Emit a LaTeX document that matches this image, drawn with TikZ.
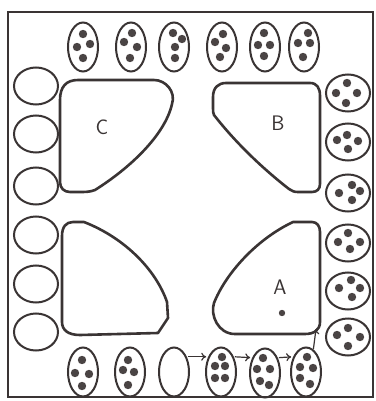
\documentclass[tikz,border=0pt]{standalone}
\usetikzlibrary{shapes.geometric,arrows.meta}
\definecolor{ink}{HTML}{3A3434}
\definecolor{pipc}{HTML}{4A4444}
\tikzset{
  frame/.style={draw=ink,line width=2.4pt},
  lobe/.style={draw=ink,line width=2.6pt,line join=round},
  vcell/.style={ellipse,draw=ink,line width=2pt,minimum width=30pt,minimum height=49pt,inner sep=0pt},
  hcell/.style={ellipse,draw=ink,line width=2pt,minimum width=44pt,minimum height=37pt,inner sep=0pt},
  pip/.style={fill=pipc},
  lbl/.style={font=\sffamily\fontsize{21}{21}\selectfont,text=ink,inner sep=0pt},
  arr/.style={draw=ink,line width=1.2pt,-{To[length=5pt,width=8pt]},shorten <=1pt,shorten >=2pt}
}
\newcommand\pips[2]{\foreach \p in {#2}{\fill[pip] (#1.center) ++(\p) circle[radius=4.2];}}
\begin{document}
\begin{tikzpicture}[x=1pt,y=-1pt]
\useasboundingbox (0,0) rectangle (375,401);
\fill[white] (0,0) rectangle (375,401);
\draw[frame] (8,12) rectangle (373,397);
% lobes
\draw[lobe] (60,100) .. controls (60,87) and (66,80) .. (78,80)
  -- (154,80) .. controls (166,80) and (176,92) .. (172,104)
  .. controls (165,135) and (130,168) .. (95,190)
  .. controls (90,192) and (85,192) .. (80,192)
  -- (70,192) .. controls (64,192) and (60,188) .. (60,182) -- cycle;
\draw[lobe] (213,97) .. controls (213,88) and (218,83) .. (226,83)
  -- (310,83) .. controls (317,83) and (320,88) .. (320,96)
  -- (320,184) .. controls (320,189) and (317,192) .. (312,192)
  -- (298,192) .. controls (294,192) and (292,191) .. (289,189)
  .. controls (262,168) and (235,142) .. (214,115)
  .. controls (213,113) and (213,111) .. (213,108) -- cycle;
\draw[lobe] (62,236) .. controls (62,227) and (66,222) .. (73,222)
  -- (84,222) .. controls (125,238) and (156,270) .. (167,302)
  -- (168,318) -- (158,333) -- (80,335)
  .. controls (68,335) and (62,330) .. (62,322) -- cycle;
\draw[lobe] (320,232) .. controls (320,226) and (317,222) .. (312,222)
  -- (293,222) .. controls (255,240) and (225,275) .. (214,303)
  .. controls (210,315) and (218,334) .. (235,334)
  -- (305,334) .. controls (314,334) and (320,330) .. (320,322) -- cycle;
\node[lbl] (lc) at (102,127) {C};
\node[lbl] (lb) at (278,123) {B};
\node[lbl] (la) at (280,287) {A};
\fill[pip] (282,313) circle[radius=3.2];
% top cells
\node[vcell] (t1) at (83,47) {};
\node[vcell] (t2) at (131,47) {};
\node[vcell] (t3) at (174,47) {};
\node[vcell] (t4) at (222,47) {};
\node[vcell] (t5) at (265,47) {};
\node[vcell] (t6) at (304,47) {};
\pips{t1}{{0,-13},{-6,0},{7,-3},{0,11}}
\pips{t2}{{1,-14},{-7,-5},{6,0},{-1,11}}
\pips{t3}{{-1,-14},{8,-8},{1,0},{1,11}}
\pips{t4}{{1,-13},{-7,-5},{4,1},{-2,10}}
\pips{t5}{{-1,-14},{-7,-2},{5,-2},{-1,9}}
\pips{t6}{{4,-14},{-6,-4},{6,-4},{-1,10}}
% bottom cells
\node[vcell] (b1) at (83,372) {};
\node[vcell] (b2) at (130,372) {};
\node[vcell] (b3) at (174,372) {};
\node[vcell] (b4) at (221,372) {};
\node[vcell] (b5) at (265,373) {};
\node[vcell] (b6) at (306,372) {};
\pips{b1}{{-1,-12},{-8,1},{6,2},{-1,14}}
\pips{b2}{{-2,-12},{-7,-2},{4,0},{-2,13}}
\pips{b4}{{1,-15},{-6,-6},{4,-6},{-6,6},{4,6}}
\pips{b5}{{-2,-15},{-8,-4},{5,-4},{-5,8},{4,12}}
\pips{b6}{{1,-15},{-6,-5},{7,-4},{-6,6},{4,12}}
% left cells
\node[hcell] (l1) at (36,86) {};
\node[hcell] (l2) at (36,134) {};
\node[hcell] (l3) at (36,186) {};
\node[hcell] (l4) at (36,235) {};
\node[hcell] (l5) at (36,284) {};
\node[hcell] (l6) at (36,332) {};
% right cells
\node[hcell] (r1) at (348,93) {};
\node[hcell] (r2) at (348,142) {};
\node[hcell] (r3) at (348,193) {};
\node[hcell] (r4) at (348,243) {};
\node[hcell] (r5) at (348,291) {};
\node[hcell] (r6) at (348,337) {};
\pips{r1}{{-1,-10},{-12,0},{9,0},{-2,10}}
\pips{r2}{{-1,-7},{-11,-2},{10,-1},{0,7}}
\pips{r3}{{4,-8},{-9,0},{12,-2},{4,7}}
\pips{r4}{{0,-10},{-10,-1},{12,-1},{2,6}}
\pips{r5}{{3,-11},{-9,-3},{12,-3},{4,6}}
\pips{r6}{{0,-9},{-11,-2},{12,0},{0,9}}
% arrows
\coordinate (turn) at (316,329);
\draw[arr] (b3.50) -- (b4.130);
\draw[arr] (b4.50) -- (b5.130);
\draw[arr] (b5.50) -- (b6.130);
\draw[arr,shorten >=0pt,shorten <=0pt] (b6.72) -- (turn);
\end{tikzpicture}
\end{document}
